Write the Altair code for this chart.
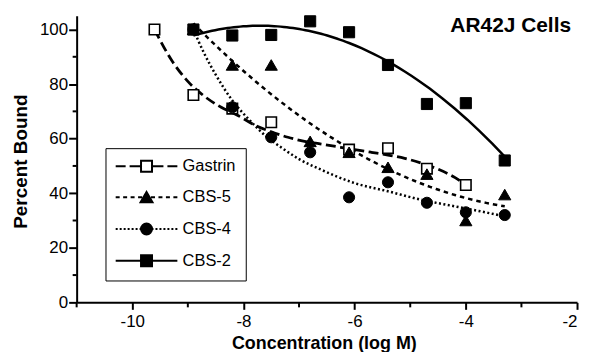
import altair as alt
import pandas as pd

FONT = "Liberation Sans"

series_names = ["Gastrin", "CBS-5", "CBS-4", "CBS-2"]

# measured points
gastrin_x = [-9.6, -8.9, -8.2, -7.5, -6.1, -5.4, -4.7, -4.0]
gastrin_y = [100, 76, 71, 66, 56, 56.5, 49, 43]

cbs_x = [-8.9, -8.2, -7.5, -6.8, -6.1, -5.4, -4.7, -4.0, -3.3]
cbs5_y = [100, 87, 87, 59, 55, 49.5, 47, 30, 39.5]
cbs4_y = [100, 71.5, 60.5, 55, 38.5, 44, 36.5, 33, 32]
cbs2_y = [100, 97.8, 98, 103, 99, 87, 72.7, 73, 52]

# fitted curves (Gastrin, CBS-4)
gastrin_curve_x = [-9.6, -9.3, -9.0, -8.7, -8.4, -8.1, -7.8, -7.5, -7.2, -6.9, -6.6,
                   -6.3, -6.0, -5.7, -5.4, -5.1, -4.8, -4.5, -4.2, -4.0]
gastrin_curve_y = [100, 89, 81, 75.5, 71.5, 68.5, 65, 62.5, 60.5, 59, 58,
                   57, 56, 55, 54, 52.8, 51, 48.8, 45.8, 43]
cbs4_curve_x = [-8.9, -8.7, -8.5, -8.2, -7.9, -7.6, -7.3, -7.0, -6.6, -6.0, -5.4,
                -4.8, -4.2, -3.6, -3.3]
cbs4_curve_y = [100, 91, 83.5, 74, 67, 61, 56.5, 52.5, 48.6, 43.7, 40.7,
                37.6, 35.2, 32.8, 31.5]

x_ticks = [-10, -8, -6, -4, -2]
x_minor = [-11, -9, -7, -5, -3]
y_ticks = [0, 20, 40, 60, 80, 100]
y_minor = [10, 30, 50, 70, 90]
panel_label = ["AR42J Cells"]
x_title = "Concentration (log M)"
y_title = "Percent Bound"

rows = []
for name, xs, ys in [("Gastrin", gastrin_x, gastrin_y), ("CBS-5", cbs_x, cbs5_y),
                     ("CBS-4", cbs_x, cbs4_y), ("CBS-2", cbs_x, cbs2_y)]:
    rows += [{"series": name, "x": a, "y": b} for a, b in zip(xs, ys)]
df = pd.DataFrame(rows)

crow = []
for name, xs, ys in [("Gastrin", gastrin_curve_x, gastrin_curve_y),
                     ("CBS-4", cbs4_curve_x, cbs4_curve_y)]:
    crow += [{"series": name, "x": a, "y": b} for a, b in zip(xs, ys)]
curves = pd.DataFrame(crow)

W, H = 503, 288
xscale = alt.Scale(domain=[-11, -2], nice=False, zero=False)
yscale = alt.Scale(domain=[0, 105], nice=False, zero=True)

xaxis = alt.Axis(values=x_ticks, tickSize=7, tickWidth=2, domainWidth=2, labelFontSize=17,
                 labelPadding=4, labelExpr="'' + datum.value", grid=False,
                 title=x_title, titleFontSize=18, titleFontWeight="bold",
                 titleX=W / 2 - 3, titleY=46, titleBaseline="alphabetic", titleAlign="center")
yaxis = alt.Axis(values=y_ticks, tickSize=8, tickWidth=2, domainWidth=2, labelFontSize=17,
                 labelPadding=1, grid=False,
                 title=y_title, titleFontSize=19, titleFontWeight="bold",
                 titleX=-50, titleY=146, titleAngle=270, titleBaseline="alphabetic",
                 titleAlign="center")

X = alt.X("x:Q", scale=xscale, axis=xaxis)
Y = alt.Y("y:Q", scale=yscale, axis=yaxis)

line_style = {
    "Gastrin": dict(strokeDash=[10, 4.5], strokeWidth=2.8),
    "CBS-5": dict(strokeDash=[4.5, 4], strokeWidth=2.5),
    "CBS-4": dict(strokeDash=[2, 2.5], strokeWidth=2.5),
    "CBS-2": dict(strokeWidth=2.5),
}
fit_order = {"CBS-5": 2, "CBS-2": 2}
point_style = {
    "Gastrin": dict(shape="square", fill="white", size=110, strokeWidth=1.6),
    "CBS-5": dict(shape="triangle-up", fill="black", size=150, strokeWidth=1),
    "CBS-4": dict(shape="circle", fill="black", size=125, strokeWidth=1),
    "CBS-2": dict(shape="square", fill="black", size=125, strokeWidth=1),
}

layers = []
for name in series_names:
    if name in fit_order:
        base = (alt.Chart(df).transform_filter(alt.datum.series == name)
                .transform_regression("x", "y", method="poly", order=fit_order[name]))
        mk = base.mark_line(color="black", **line_style[name])
    else:
        base = alt.Chart(curves).transform_filter(alt.datum.series == name)
        mk = base.mark_line(color="black", interpolate="monotone", **line_style[name])
    layers.append(mk.encode(x=X, y=Y))

for name in series_names:
    layers.append(
        alt.Chart(df).transform_filter(alt.datum.series == name)
        .mark_point(filled=True, stroke="black", opacity=1, **point_style[name])
        .encode(x=X, y=Y)
    )

# minor ticks
layers.append(
    alt.Chart(pd.DataFrame({"x": x_minor})).mark_rule(color="black", strokeWidth=2)
    .encode(x=X, y=alt.value(H), y2=alt.value(H + 5))
)
layers.append(
    alt.Chart(pd.DataFrame({"y": y_minor})).mark_rule(color="black", strokeWidth=2)
    .encode(y=Y, x=alt.value(0), x2=alt.value(-4))
)


# legend symbols: dashed line + marker, drawn as an SVG path (1 unit = 6 px)
def seg_path(segments_px):
    out = ""
    for a, b in segments_px:
        out += "M%.3f,0H%.3f" % (a / 6, b / 6)
        out += "M%.3f,0H%.3f" % (-b / 6, -a / 6)
    return out


def dashes(start, stop, on, off):
    segs, p = [], start
    while p < stop:
        segs.append((p, min(p + on, stop)))
        p += on + off
    return segs


sq = "M-0.92,-0.92H0.92V0.92H-0.92Z"
tri = "M0,-0.87L1,0.87H-1Z"
circ = "M0.92,0A0.92,0.92,0,1,1,-0.92,0A0.92,0.92,0,1,1,0.92,0Z"
legend_paths = [
    seg_path([(5.5, 17), (21, 31)]) + sq,
    seg_path([(s, e) for s, e in dashes(4.5, 31, 4, 3.5)]) + tri,
    seg_path([(s, e) for s, e in dashes(5, 31, 2, 2)]) + circ,
    seg_path([(5, 31)]) + sq,
]
legend_fills = ["white", "black", "black", "black"]
legend_strokes = ["black", "black", "black", "black"]
leg = alt.Legend(title=None, orient="none", legendX=29, legendY=133,
                 symbolSize=144, symbolStrokeWidth=2, symbolStrokeColor="black",
                 symbolOpacity=1, symbolOffset=23, labelOffset=28,
                 labelFontSize=16.5, labelFont=FONT, labelColor="black",
                 padding=10, rowPadding=12, strokeColor="black", fillColor="white")
layers.append(
    alt.Chart(df).transform_filter("false")
    .mark_point(filled=True, stroke="black", strokeWidth=2, opacity=1)
    .encode(
        shape=alt.Shape("series:N", scale=alt.Scale(domain=series_names, range=legend_paths), legend=leg),
        fill=alt.Fill("series:N", scale=alt.Scale(domain=series_names, range=legend_fills), legend=leg),
        stroke=alt.Stroke("series:N", scale=alt.Scale(domain=series_names, range=legend_strokes), legend=leg),
    )
)

# panel label
layers.append(
    alt.Chart(pd.DataFrame({"label": panel_label}))
    .mark_text(align="right", baseline="alphabetic", fontSize=21, fontWeight="bold",
               font=FONT, color="black")
    .encode(x=alt.value(W - 6), y=alt.value(16), text="label:N")
)

chart = (
    alt.layer(*layers)
    .properties(width=W, height=H, autosize=alt.AutoSizeParams(type="none"),
                padding={"left": 69, "top": 7, "right": 5, "bottom": 49})
    .configure_view(stroke=None)
    .configure_axis(labelFont=FONT, titleFont=FONT, labelColor="black", titleColor="black",
                    domainColor="black", tickColor="black")
)

chart.save("out.html", embed_options={"renderer": "svg", "actions": False})
